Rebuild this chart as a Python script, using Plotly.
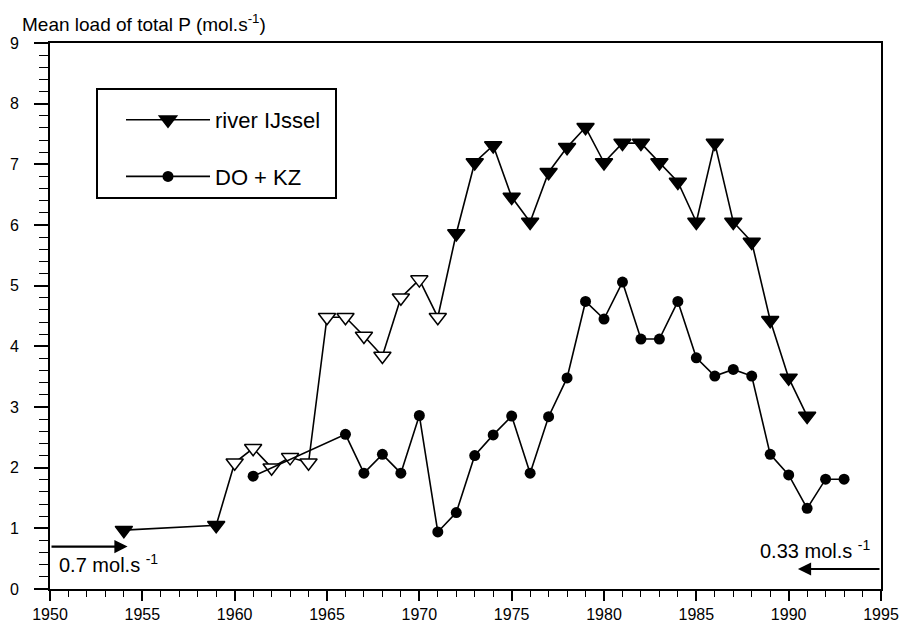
import plotly.graph_objects as go

# ---- data ----
ijssel_years = [1954, 1959, 1960, 1961, 1962, 1963, 1964, 1965, 1966, 1967, 1968, 1969,
                1970, 1971, 1972, 1973, 1974, 1975, 1976, 1977, 1978, 1979, 1980, 1981,
                1982, 1983, 1984, 1985, 1986, 1987, 1988, 1989, 1990, 1991]
ijssel_load = [0.97, 1.05, 2.08, 2.32, 2.0, 2.17, 2.08, 4.48, 4.48, 4.17, 3.84, 4.8,
               5.1, 4.48, 5.86, 7.03, 7.31, 6.46, 6.05, 6.87, 7.28, 7.61, 7.03, 7.35,
               7.35, 7.03, 6.71, 6.05, 7.35, 6.05, 5.72, 4.43, 3.48, 2.85]
# open (estimated) markers for 1960-1971
ijssel_open = [False, False, True, True, True, True, True, True, True, True, True, True,
               True, True, False, False, False, False, False, False, False, False, False, False,
               False, False, False, False, False, False, False, False, False, False]

dokz_years = [1961, 1966, 1967, 1968, 1969, 1970, 1971, 1972, 1973, 1974, 1975, 1976,
              1977, 1978, 1979, 1980, 1981, 1982, 1983, 1984, 1985, 1986, 1987, 1988,
              1989, 1990, 1991, 1992, 1993]
dokz_load = [1.86, 2.55, 1.91, 2.22, 1.91, 2.86, 0.94, 1.26, 2.2, 2.54, 2.85, 1.91,
             2.84, 3.48, 4.74, 4.45, 5.06, 4.12, 4.12, 4.74, 3.81, 3.51, 3.62, 3.51,
             2.22, 1.88, 1.33, 1.81, 1.81]

series_names = ["river IJssel", "DO + KZ"]
x_range = [1950, 1995]
y_range = [0, 9]
y_title = "Mean load of total P (mol.s<sup>-1</sup>)"
left_ref = 0.7
right_ref = 0.33
left_label = "0.7 mol.s <sup>-1</sup>"
right_label = "0.33 mol.s <sup>-1</sup>"

FONT = "Liberation Sans, Arial, Helvetica, sans-serif"

# page body has an 8px margin: figure is sized/offset so the plot area lands
# at x 50..881, y 43..589 of the 911x629 window
W, H = 903, 621
ML, MR, MT, MB = 42, 30, 35, 40
PW, PH = W - ML - MR, H - MT - MB


def px_x(x):  # window pixel -> paper
    return (x - 8 - ML) / PW


def px_y(y):
    return (H - MB - (y - 8)) / PH


fig = go.Figure()

fill_colors = ["white" if o else "black" for o in ijssel_open]
fig.add_trace(go.Scatter(
    x=ijssel_years, y=ijssel_load, mode="lines+markers", name=series_names[0],
    legendgroup="a",
    line=dict(color="black", width=1.6),
    marker=dict(symbol="triangle-down", size=15, color=fill_colors,
                line=dict(color="black", width=1.5)),
))
fig.add_trace(go.Scatter(
    x=dokz_years, y=dokz_load, mode="lines+markers", name=series_names[1],
    legendgroup="b",
    line=dict(color="black", width=1.6),
    marker=dict(symbol="circle", size=11, color="black",
                line=dict(color="black", width=0)),
))

# reference arrows
fig.add_annotation(x=1954.2, y=left_ref, ax=x_range[0], ay=left_ref, xref="x", yref="y",
                   axref="x", ayref="y", text="", showarrow=True, arrowhead=2,
                   arrowsize=1.2, arrowwidth=2.2, arrowcolor="black")
fig.add_annotation(x=1990.5, y=right_ref, ax=x_range[1], ay=right_ref, xref="x", yref="y",
                   axref="x", ayref="y", text="", showarrow=True, arrowhead=2,
                   arrowsize=1.2, arrowwidth=2.2, arrowcolor="black")
fig.add_annotation(x=px_x(57), y=px_y(563), xref="paper", yref="paper", text=left_label,
                   showarrow=False, xanchor="left", yanchor="middle",
                   font=dict(size=20, color="black", family=FONT))
fig.add_annotation(x=px_x(872), y=px_y(549), xref="paper", yref="paper", text=right_label,
                   showarrow=False, xanchor="right", yanchor="middle",
                   font=dict(size=20, color="black", family=FONT))

# y title at top-left
fig.add_annotation(x=px_x(20), y=px_y(23), xref="paper", yref="paper", text=y_title,
                   showarrow=False, xanchor="left", yanchor="middle",
                   font=dict(size=19, color="black", family=FONT))

fig.update_layout(
    width=W, height=H,
    margin=dict(l=ML, r=MR, t=MT, b=MB),
    paper_bgcolor="white", plot_bgcolor="white",
    font=dict(family=FONT, size=16, color="black"),
    showlegend=True,
    legend=dict(x=px_x(121), y=px_y(99), xanchor="left", yanchor="top",
                bgcolor="rgba(0,0,0,0)", borderwidth=0,
                itemwidth=84, tracegroupgap=25,
                font=dict(size=22, color="black", family=FONT)),
    shapes=[dict(type="rect", xref="paper", yref="paper",
                 x0=px_x(97), x1=px_x(336),
                 y0=px_y(198), y1=px_y(89),
                 line=dict(color="black", width=2))],
)

fig.update_xaxes(range=x_range, dtick=5, tick0=1950, showgrid=False, zeroline=False,
                 automargin=False,
                 showline=True, linecolor="black", linewidth=2, mirror=True,
                 ticks="outside", ticklen=10, tickwidth=1.5, tickcolor="black",
                 minor=dict(dtick=1, ticks="outside", ticklen=6, tickwidth=1, tickcolor="black"),
                 tickfont=dict(size=16, color="black", family=FONT))
fig.update_yaxes(range=y_range, dtick=1, tick0=0, showgrid=False, zeroline=False,
                 automargin=False, ticklabelstandoff=12,
                 showline=True, linecolor="black", linewidth=2, mirror=True,
                 ticks="outside", ticklen=14, tickwidth=2, tickcolor="black",
                 minor=dict(dtick=0.2, ticks="outside", ticklen=9, tickwidth=1, tickcolor="black"),
                 tickfont=dict(size=16, color="black", family=FONT))

fig.write_html("out.html")
